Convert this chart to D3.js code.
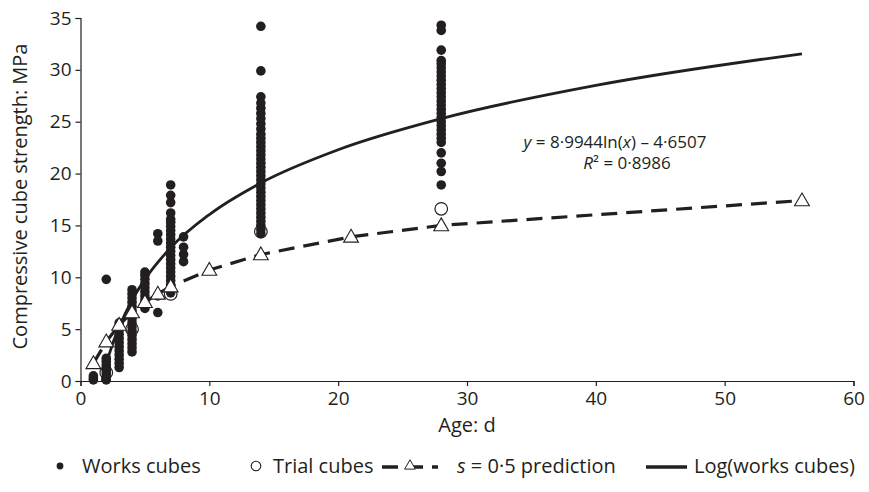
<!DOCTYPE html>
<html>
<head>
<meta charset="utf-8">
<script src="https://cdn.jsdelivr.net/npm/d3@7"></script>
<style>
  body { margin: 0; background: #fff; }
  svg text { font-family: "Open Sans", "Noto Sans", sans-serif; fill: #231f20; }
</style>
</head>
<body>
<svg id="chart" width="869" height="492"></svg>
<script>
// age of each group of works cubes (days) and strengths (MPa)
const worksDays = [1, 2, 3, 4, 5, 6, 7, 8, 14, 28];
const worksStrength = [
  [0.1, 0.3, 0.5],
  [9.8, 0.1, 0.4, 0.7, 1.0, 1.3, 1.6, 1.9, 2.2],
  [1.3, 1.7, 2.1, 2.5, 2.9, 3.3, 3.7, 4.1, 4.5, 4.9, 5.3, 5.6],
  [2.8, 3.2, 3.6, 4.0, 4.4, 4.8, 5.2, 5.6, 6.0, 6.4, 6.8, 7.2, 7.6, 8.0, 8.4, 8.8],
  [7.0, 7.4, 7.8, 8.2, 8.6, 9.0, 9.4, 9.8, 10.2, 10.5],
  [6.6, 8.2, 13.5, 14.2],
  [8.5, 8.9, 9.3, 9.7, 10.1, 10.5, 10.9, 11.3, 11.7, 12.1, 12.5, 12.9, 13.3, 13.7, 14.1,
   14.5, 14.9, 15.3, 15.6, 16.2, 17.2, 17.9, 18.9],
  [11.5, 12.2, 12.9, 13.9],
  [14.2, 14.6, 15.0, 15.4, 15.8, 16.2, 16.6, 17.0, 17.4, 17.8, 18.2, 18.6, 19.0, 19.4, 19.8,
   20.2, 20.6, 21.0, 21.4, 21.8, 22.2, 22.6, 23.0, 23.4, 23.8, 24.3, 24.8, 25.3, 25.8, 26.3,
   26.8, 27.4, 29.9, 34.2],
  [18.9, 20.2, 21.0, 22.0, 23.0, 23.4, 23.8, 24.2, 24.6, 25.0, 25.4, 25.8, 26.2, 26.6, 27.0,
   27.4, 27.8, 28.2, 28.6, 29.0, 29.4, 29.8, 30.2, 30.6, 30.9, 31.9, 33.8, 34.3]
];

// trial cubes
const trialDays = [2, 4, 7, 14, 28];
const trialStrength = [0.8, 5.0, 8.4, 14.4, 16.6];

// s = 0.5 prediction
const predDays = [1, 2, 3, 4, 5, 6, 7, 10, 14, 21, 28, 56];
const predStrength = [1.7, 3.8, 5.4, 6.6, 7.6, 8.4, 9.1, 10.7, 12.2, 13.9, 15.0, 17.4];

// log(works cubes) trendline
const logDays = [1.68, 2, 2.5, 3, 4, 5, 7, 10, 14, 20, 28, 40, 56];
const logStrength = [0, 1.6, 3.6, 5.2, 7.8, 9.8, 12.85, 16.05, 19.1, 22.3, 25.3, 28.5, 31.55];

const xTicks = [0, 10, 20, 30, 40, 50, 60];
const yTicks = [0, 5, 10, 15, 20, 25, 30, 35];

const svg = d3.select("#chart");
const m = { left: 80.5, right: 853.5, top: 18, bottom: 381 };
const FS = 19;   // tick labels
const LS = 20;   // titles, legend

const x = d3.scaleLinear().domain([0, 60]).range([m.left, m.right]);
const y = d3.scaleLinear().domain([0, 35]).range([m.bottom, m.top]);

// axes
const xAxis = svg.append("g").attr("transform", `translate(0,${m.bottom})`)
  .call(d3.axisBottom(x).tickValues(xTicks).tickSize(5).tickPadding(3).tickFormat(d3.format("d")));
const yAxis = svg.append("g").attr("transform", `translate(${m.left},0)`)
  .call(d3.axisLeft(y).tickValues(yTicks).tickSize(5).tickPadding(4).tickFormat(d3.format("d")));
[xAxis, yAxis].forEach(a => {
  a.select(".domain").attr("stroke", "#231f20").attr("stroke-width", 1.2);
  a.selectAll(".tick line").attr("stroke", "#231f20").attr("stroke-width", 1.2);
  a.selectAll(".tick text").attr("font-size", FS).attr("fill", "#231f20")
    .style("font-family", "'Open Sans', sans-serif");
});
xAxis.selectAll(".tick text").attr("dy", "0.85em");

svg.append("text").attr("x", x(30)).attr("y", 432).attr("text-anchor", "middle")
  .attr("font-size", LS).text("Age: d");
svg.append("text").attr("transform", `translate(27,${y(17.5) - 3}) rotate(-90)`)
  .attr("text-anchor", "middle").attr("font-size", LS).text("Compressive cube strength: MPa");

svg.append("clipPath").attr("id", "plot").append("rect")
  .attr("x", m.left).attr("y", 0).attr("width", m.right - m.left + 20).attr("height", m.bottom);

// works cubes
const works = [];
worksDays.forEach((d, i) => worksStrength[i].forEach(v => works.push([d, v])));
svg.append("g").selectAll("circle").data(works).join("circle")
  .attr("cx", d => x(d[0])).attr("cy", d => y(d[1])).attr("r", 4.8).attr("fill", "#231f20");

// log trendline
const line = d3.line().x((d, i) => x(logDays[i])).y(d => y(d)).curve(d3.curveMonotoneX);
svg.append("path").attr("d", line(logStrength)).attr("clip-path", "url(#plot)")
  .attr("fill", "none").attr("stroke", "#231f20").attr("stroke-width", 2.8);

// prediction dashed line
const pline = d3.line().x((d, i) => x(predDays[i])).y(d => y(d));
svg.append("path").attr("d", pline(predStrength))
  .attr("fill", "none").attr("stroke", "#231f20").attr("stroke-width", 3.2)
  .attr("stroke-dasharray", "16,9");

// trial cubes
svg.append("g").selectAll("circle").data(trialDays).join("circle")
  .attr("cx", d => x(d)).attr("cy", (d, i) => y(trialStrength[i])).attr("r", 6.3)
  .attr("fill", "none").attr("stroke", "#231f20").attr("stroke-width", 1.2);

// triangles
const tri = d3.symbol().type(d3.symbolTriangle).size(95);
svg.append("g").selectAll("path").data(predDays).join("path")
  .attr("d", tri).attr("transform", (d, i) => `translate(${x(d)},${y(predStrength[i]) + 1})`)
  .attr("fill", "#fff").attr("stroke", "#231f20").attr("stroke-width", 1.1);

// equation
const eq = svg.append("text").attr("x", 615).attr("y", 148).attr("text-anchor", "middle").attr("font-size", 17);
eq.append("tspan").attr("font-style", "italic").text("y");
eq.append("tspan").text(" = 8·9944ln(");
eq.append("tspan").attr("font-style", "italic").text("x");
eq.append("tspan").text(") – 4·6507");
const r2 = svg.append("text").attr("x", 627).attr("y", 169).attr("text-anchor", "middle").attr("font-size", 17);
r2.append("tspan").attr("font-style", "italic").text("R");
r2.append("tspan").text("² = 0·8986");

// legend
const ly = 466;
const lg = svg.append("g").attr("font-size", LS);
lg.append("circle").attr("cx", 60).attr("cy", ly).attr("r", 3.4).attr("fill", "#231f20");
lg.append("text").attr("x", 82).attr("y", ly + 7).text("Works cubes");
lg.append("circle").attr("cx", 256).attr("cy", ly).attr("r", 4.8).attr("fill", "none")
  .attr("stroke", "#231f20").attr("stroke-width", 1.1);
lg.append("text").attr("x", 273).attr("y", ly + 7).text("Trial cubes");
lg.append("line").attr("x1", 382).attr("x2", 438).attr("y1", ly + 1).attr("y2", ly + 1)
  .attr("stroke", "#231f20").attr("stroke-width", 3.5).attr("stroke-dasharray", "16,9");
lg.append("path").attr("d", d3.symbol().type(d3.symbolTriangle).size(50))
  .attr("transform", `translate(410,${ly})`).attr("fill", "#fff").attr("stroke", "#231f20").attr("stroke-width", 1);
const pt = lg.append("text").attr("x", 457).attr("y", ly + 7);
pt.append("tspan").attr("font-style", "italic").text("s");
pt.append("tspan").text(" = 0·5 prediction");
lg.append("line").attr("x1", 646).attr("x2", 687).attr("y1", ly + 1).attr("y2", ly + 1)
  .attr("stroke", "#231f20").attr("stroke-width", 3.5);
lg.append("text").attr("x", 694).attr("y", ly + 7).text("Log(works cubes)");
</script>
</body>
</html>
